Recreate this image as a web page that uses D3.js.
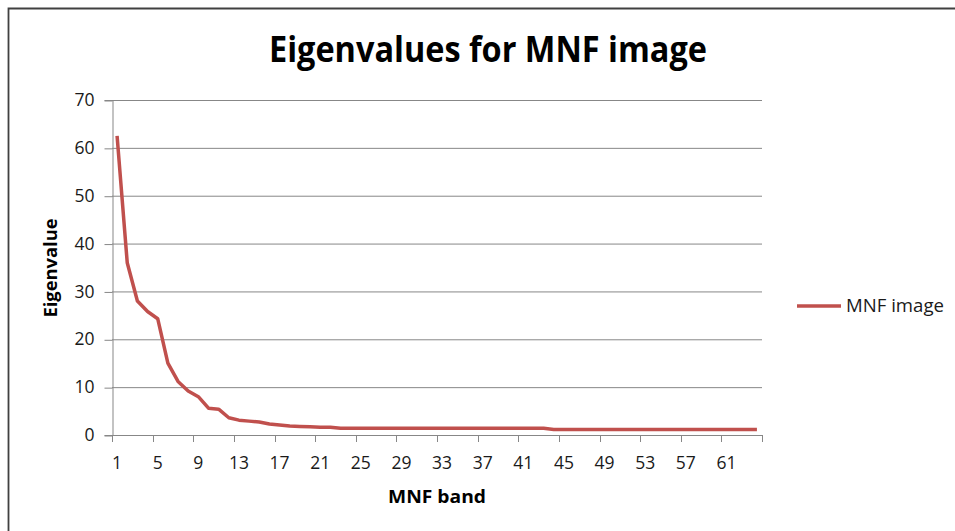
<!DOCTYPE html>
<html><head><meta charset="utf-8">
<script src="https://cdn.jsdelivr.net/npm/d3@7"></script>
<style>
html,body{margin:0;padding:0;background:#fff;}
svg{display:block;font-family:"Open Sans","Liberation Sans",sans-serif;}
</style></head>
<body><svg id="c" width="955" height="531"></svg>
<script>
const bands = d3.range(1, 65);
const eigenvalues = [62.5,36.0,28.0,25.8,24.3,15.0,11.2,9.2,8.0,5.6,5.4,3.6,3.1,2.9,2.7,2.3,2.1,1.9,1.8,1.7,1.6,1.6,1.4,1.4,1.4,1.4,1.4,1.4,1.4,1.4,1.4,1.4,1.4,1.4,1.4,1.4,1.4,1.4,1.4,1.4,1.4,1.4,1.4,1.15,1.15,1.15,1.15,1.15,1.15,1.15,1.15,1.15,1.15,1.15,1.15,1.15,1.15,1.15,1.15,1.15,1.15,1.15,1.15,1.15];
const yTicks = [0,10,20,30,40,50,60,70];
const xLabels = [1,5,9,13,17,21,25,29,33,37,41,45,49,53,57,61];
const title = "Eigenvalues for MNF image";
const xTitle = "MNF band";
const yTitle = "Eigenvalue";
const seriesName = "MNF image";

const svg = d3.select("#c");
const L = 112, R = 762, T = 100, B = 435;
const x = d3.scaleBand().domain(bands).range([L, R]).padding(0);
const y = d3.scaleLinear().domain([0, 70]).range([B, T]);
const gridC = "#878787", lineC = "#C0504D", textC = "#1a1a1a";

// chart border (cropped)
svg.append("path").attr("d", "M8.5,531 L8.5,8.5 L955,8.5").attr("fill","none").attr("stroke","#404040").attr("stroke-width",1.8);

// title
svg.append("text").attr("x", 488).attr("y", 62).attr("text-anchor","middle")
  .attr("font-size", 35).attr("font-weight","bold").attr("fill","#000")
  .attr("textLength", 438).attr("lengthAdjust","spacingAndGlyphs").text(title);

// gridlines
svg.append("g").selectAll("line").data(yTicks.filter(d=>d>0)).join("line")
  .attr("x1", L).attr("x2", R).attr("y1", d=>y(d)+0.5).attr("y2", d=>y(d)+0.5)
  .attr("stroke", gridC).attr("stroke-width", 1);

// y axis
const ya = svg.append("g").attr("transform", `translate(${L+0.5},0)`)
  .call(d3.axisLeft(y).tickValues(yTicks).tickSize(8).tickPadding(10).tickFormat(d3.format("d")));
ya.select(".domain").attr("stroke", gridC);
ya.selectAll(".tick line").attr("stroke", gridC).attr("transform","translate(0,0.5)");
ya.selectAll("text").attr("font-size", 17.5).attr("fill", textC).attr("font-family",'"Open Sans",sans-serif');

// x axis labels
const xa = svg.append("g").attr("transform", `translate(0,${B+0.5})`)
  .call(d3.axisBottom(x).tickValues(xLabels).tickSize(0).tickPadding(21));
xa.select(".domain").attr("stroke", gridC).attr("d", `M${L},0H${R}`);
xa.selectAll("text").attr("font-size", 17.5).attr("fill", textC).attr("font-family",'"Open Sans",sans-serif');
// x tick marks at category boundaries
const bounds = bands.filter((d,i)=>i%4===0).map(d=>x(d)).concat([R]);
svg.append("g").selectAll("line").data(bounds).join("line")
  .attr("x1", d=>Math.round(d)+0.5).attr("x2", d=>Math.round(d)+0.5)
  .attr("y1", B).attr("y2", B+7).attr("stroke", gridC);

// axis titles
svg.append("text").attr("x", 437).attr("y", 503).attr("text-anchor","middle")
  .attr("font-size", 17).attr("font-weight","bold").attr("fill","#000")
  .attr("textLength", 98).attr("lengthAdjust","spacingAndGlyphs").text(xTitle);
svg.append("text").attr("transform","translate(57,268) rotate(-90)").attr("text-anchor","middle")
  .attr("font-size", 17).attr("font-weight","bold").attr("fill","#000")
  .attr("textLength", 99).attr("lengthAdjust","spacingAndGlyphs").text(yTitle);

// line
const line = d3.line().x((d,i)=>x(bands[i]) + x.bandwidth()/2).y(d=>y(d));
svg.append("path").datum(eigenvalues).attr("d", line).attr("fill","none")
  .attr("stroke", lineC).attr("stroke-width", 3.5).attr("stroke-linejoin","round");

// legend
svg.append("line").attr("x1", 797).attr("x2", 841).attr("y1", 306).attr("y2", 306)
  .attr("stroke", lineC).attr("stroke-width", 3.5);
svg.append("text").attr("x", 846).attr("y", 312).attr("font-size", 18).attr("fill", textC)
  .attr("textLength", 98).attr("lengthAdjust","spacingAndGlyphs").text(seriesName);
</script></body></html>
